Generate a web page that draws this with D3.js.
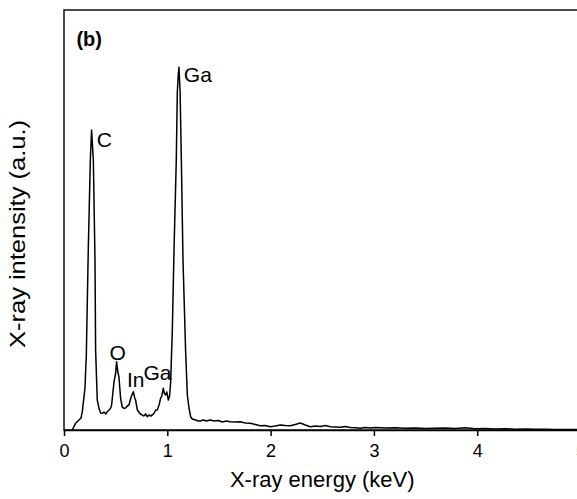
<!DOCTYPE html>
<html>
<head>
<meta charset="utf-8">
<title>EDX spectrum</title>
<script src="https://d3js.org/d3.v7.min.js"></script>
<style>
  body { margin: 0; background: #fff; }
  text { font-family: "Liberation Sans", Arial, sans-serif; fill: #000; }
</style>
</head>
<body>
<div id="chart"></div>
<script>
// spectrum (energy in keV, intensity in a.u.)
var energy = [0.080, 0.112, 0.145, 0.165, 0.177, 0.203, 0.216, 0.235, 0.255, 0.267, 0.284, 0.300, 0.306, 0.322,
  0.339, 0.354, 0.371, 0.387, 0.405, 0.419, 0.436, 0.451, 0.461, 0.484, 0.500, 0.509, 0.521, 0.532, 0.548,
  0.564, 0.581, 0.596, 0.613, 0.629, 0.647, 0.661, 0.671, 0.685, 0.693, 0.710, 0.724, 0.739, 0.758, 0.772,
  0.790, 0.806, 0.823, 0.840, 0.855, 0.874, 0.887, 0.903, 0.920, 0.935, 0.947, 0.961, 0.971, 0.984, 0.995,
  1.010, 1.022, 1.032, 1.048, 1.065, 1.087, 1.097, 1.106, 1.113, 1.124, 1.136, 1.152, 1.177, 1.194, 1.210,
  1.226, 1.242, 1.274, 1.300, 1.319, 1.348, 1.378, 1.416, 1.455, 1.494, 1.532, 1.571, 1.610, 1.658, 1.707,
  1.755, 1.803, 1.852, 1.900, 1.949, 1.997, 2.045, 2.094, 2.142, 2.191, 2.239, 2.287, 2.336, 2.384, 2.433,
  2.481, 2.530, 2.578, 2.626, 2.675, 2.723, 2.771, 2.820, 2.868, 2.917, 2.965, 3.014, 3.110, 3.207, 3.304,
  3.401, 3.497, 3.594, 3.691, 3.788, 3.885, 3.981, 4.078, 4.175, 4.272, 4.369, 4.466, 4.563, 4.659, 4.756,
  4.853, 4.950, 5.000];
var intensity = [0, 6.7, 10, 12, 18.3, 42, 75, 180, 270, 300, 270, 170, 80, 30,
  21.7, 17, 16.7, 18, 16, 18.3, 20, 21.7, 25, 48, 57, 68.3, 58, 53, 31.7,
  23, 21.7, 22, 24, 25, 32, 36, 38.3, 32, 30, 20, 18, 16, 15, 14,
  16, 13.3, 15, 14, 15, 17, 20, 20, 25, 31.7, 34, 41.7, 37, 35, 38,
  30, 34, 47, 97, 180, 270, 338, 355, 362.7, 338, 270, 170, 80, 35, 22,
  13.3, 11, 10, 9, 9, 10, 9, 10, 9, 9.5, 8, 9, 8.3, 8, 8.3,
  7, 6.7, 5.5, 4.3, 4.5, 3.3, 4, 5, 4.5, 4.3, 5.5, 7, 5, 3.3, 4,
  3.5, 4.5, 3.3, 3, 2.7, 3.5, 2.5, 2.2, 1.7, 2.5, 2, 2.5, 2, 2.3, 1.7,
  2, 1.5, 1.7, 2, 1.5, 2.2, 1.3, 1.5, 1, 1.3, 0.8, 1, 0.7, 0.8, 0.5,
  0.6, 0.5, 0.4];

// peak labels: text, energy, intensity of the text baseline
var peakNames = ["C", "Ga", "O", "In", "Ga"];
var peakE = [0.318, 1.160, 0.440, 0.610, 0.770];
var peakI = [283, 348, 70.5, 43.5, 50];

var xTicks = [0, 1, 2, 3, 4, 5];

var width = 577, height = 499;
var plotLeft = 64, plotRight = 580.5, plotTop = 10, plotBottom = 430;

var svg = d3.select("#chart").append("svg")
  .attr("width", width)
  .attr("height", height);

var x = d3.scaleLinear().domain([0, 5]).range([plotLeft, plotRight]);
var y = d3.scaleLinear().domain([0, 420]).range([plotBottom, plotTop]);

// frame
svg.append("rect")
  .attr("x", plotLeft).attr("y", plotTop)
  .attr("width", plotRight - plotLeft).attr("height", plotBottom - plotTop)
  .attr("fill", "none").attr("stroke", "#111").attr("stroke-width", 1.5);

// spectrum
var line = d3.line()
  .x(function (d, i) { return x(energy[i]); })
  .y(function (d, i) { return y(intensity[i]); });

svg.append("path")
  .datum(energy)
  .attr("d", line)
  .attr("fill", "none")
  .attr("stroke", "#000")
  .attr("stroke-width", 1.5)
  .attr("stroke-linejoin", "round");

// x axis
var xAxis = d3.axisBottom(x)
  .tickValues(xTicks)
  .tickFormat(d3.format("d"))
  .tickSize(6)
  .tickSizeOuter(0)
  .tickPadding(8);

var gx = svg.append("g")
  .attr("transform", "translate(0," + plotBottom + ")")
  .call(xAxis);
gx.select(".domain").attr("stroke", "#000").attr("stroke-width", 1.5);
gx.selectAll(".tick line").attr("stroke", "#000").attr("stroke-width", 1.5);
gx.selectAll(".tick text")
  .attr("fill", "#000")
  .style("font-size", "18px")
  .style("font-family", "'Liberation Sans', Arial, sans-serif");

// axis titles
svg.append("text")
  .attr("x", (plotLeft + plotRight) / 2)
  .attr("y", 487)
  .attr("text-anchor", "middle")
  .style("font-size", "22px")
  .text("X-ray energy (keV)");

svg.append("text")
  .attr("transform", "translate(25,234) rotate(-90)")
  .attr("text-anchor", "middle")
  .attr("textLength", 228)
  .attr("lengthAdjust", "spacingAndGlyphs")
  .style("font-size", "22px")
  .text("X-ray intensity (a.u.)");

// panel label
svg.append("text")
  .attr("x", x(0.12))
  .attr("y", y(384))
  .style("font-size", "20px")
  .style("font-weight", "bold")
  .text("(b)");

// peak labels
svg.selectAll(".peak")
  .data(peakNames)
  .enter()
  .append("text")
  .attr("class", "peak")
  .attr("x", function (d, i) { return x(peakE[i]); })
  .attr("y", function (d, i) { return y(peakI[i]); })
  .style("font-size", "21px")
  .text(function (d) { return d; });
</script>
</body>
</html>
